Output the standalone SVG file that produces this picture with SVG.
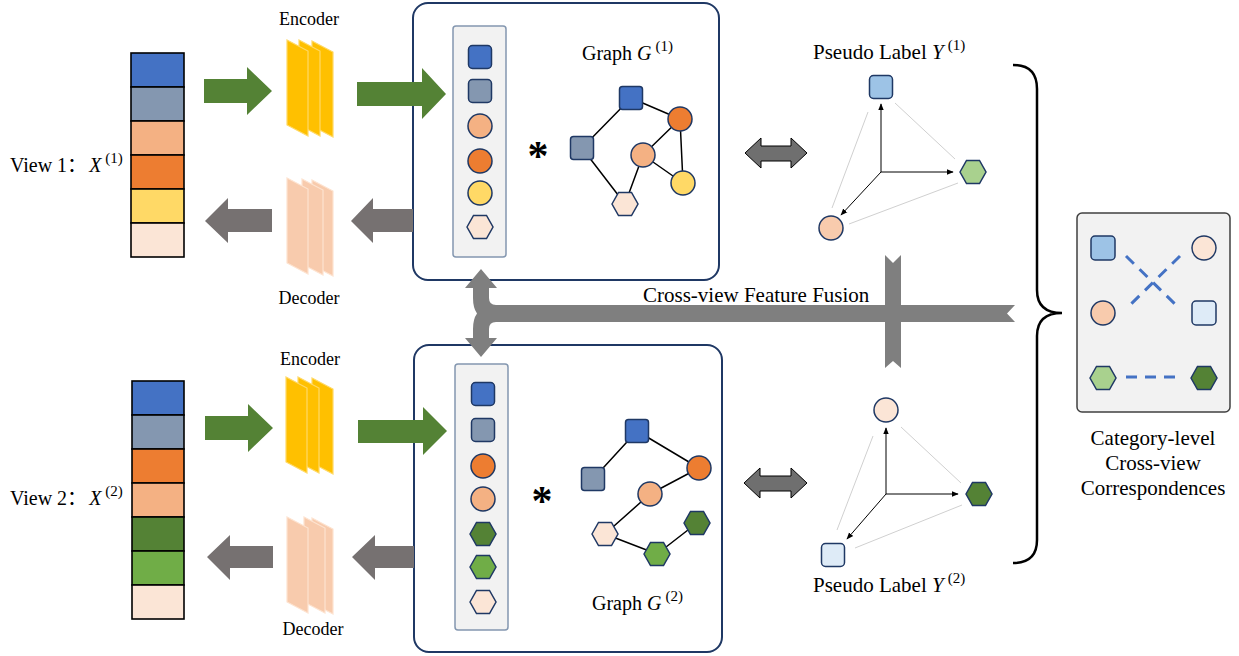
<svg xmlns="http://www.w3.org/2000/svg" xmlns:xlink="http://www.w3.org/1999/xlink" width="1239" height="656" viewBox="0 0 1239 656">
  <style>
    text { font-family: "Liberation Serif", "Times New Roman", "Noto Sans CJK SC", serif; fill: #000; }
    .lbl { font-size: 20px; }
    .small { font-size: 18px; }
    .big { font-size: 21px; }
    .sup { font-size: 15px; }
    .it { font-style: italic; }
    .cell { stroke: #000; stroke-width: 1.6; }
    .box { fill: #fff; stroke: #1f3864; stroke-width: 2; }
    .panel { fill: #f2f2f2; stroke: #8497b0; stroke-width: 1.5; }
    .nd { stroke: #1f3864; stroke-width: 1.5; }
    .edge { stroke: #000; stroke-width: 1.5; fill: none; }
    .axis { stroke: #000; stroke-width: 1; fill: none; marker-end: url(#tip); }
    .faint { stroke: #d0d0d0; stroke-width: 1; fill: none; }
    .fwd { fill: #548235; }
    .back { fill: #767171; }
    .dbl { fill: #6f6f6f; stroke: #000; stroke-width: 1; }
    .fuse { fill: #7f7f7f; }
    .enc { fill: #ffc000; stroke: #ffd966; stroke-width: 1.2; }
    .dec { fill: #f8cbad; stroke: #fde3d0; stroke-width: 1.2; }
    .corr { stroke: #4472c4; stroke-width: 3; stroke-dasharray: 11 8; fill: none; }
  </style>
  <defs>
    <path id="hex" d="M-13,0 L-6.5,-11.5 L6.5,-11.5 L13,0 L6.5,11.5 L-6.5,11.5 Z"/>
    <polygon id="sheet" points="0,0 21,11 21,96 0,85"/>
    <marker id="tip" viewBox="0 0 10 10" refX="9" refY="5" markerWidth="7" markerHeight="7" orient="auto" markerUnits="userSpaceOnUse">
      <path d="M0,1 L10,5 L0,9 Z" fill="#000"/>
    </marker>
  </defs>

  <!-- view 1 input vector -->
  <g id="view1">
    <text class="lbl" x="10" y="172">View 1：<tspan class="it" dx="2">X</tspan><tspan class="sup" dy="-9" dx="4">(1)</tspan></text>
    <rect class="cell" x="131" y="53" width="53" height="34" fill="#4472c4"/>
    <rect class="cell" x="131" y="87" width="53" height="34" fill="#8497b0"/>
    <rect class="cell" x="131" y="121" width="53" height="34" fill="#f4b183"/>
    <rect class="cell" x="131" y="155" width="53" height="34" fill="#ed7d31"/>
    <rect class="cell" x="131" y="189" width="53" height="34" fill="#ffd966"/>
    <rect class="cell" x="131" y="223" width="53" height="34" fill="#fbe5d6"/>
  </g>

  <!-- view 2 input vector -->
  <g id="view2">
    <text class="lbl" x="10" y="505">View 2：<tspan class="it" dx="2">X</tspan><tspan class="sup" dy="-9" dx="4">(2)</tspan></text>
    <rect class="cell" x="132" y="381" width="52" height="34" fill="#4472c4"/>
    <rect class="cell" x="132" y="415" width="52" height="34" fill="#8497b0"/>
    <rect class="cell" x="132" y="449" width="52" height="34" fill="#ed7d31"/>
    <rect class="cell" x="132" y="483" width="52" height="34" fill="#f4b183"/>
    <rect class="cell" x="132" y="517" width="52" height="34" fill="#548235"/>
    <rect class="cell" x="132" y="551" width="52" height="34" fill="#70ad47"/>
    <rect class="cell" x="132" y="585" width="52" height="34" fill="#fbe5d6"/>
  </g>

  <!-- encoders / decoders -->
  <g id="encoder1">
    <text class="small" x="309" y="25" text-anchor="middle">Encoder</text>
    <use href="#sheet" class="enc" x="312" y="41"/>
    <use href="#sheet" class="enc" x="299" y="40"/>
    <use href="#sheet" class="enc" x="287" y="40"/>
  </g>
  <g id="decoder1">
    <use href="#sheet" class="dec" x="312" y="180"/>
    <use href="#sheet" class="dec" x="302" y="179"/>
    <use href="#sheet" class="dec" x="287" y="178"/>
    <text class="small" x="309" y="304" text-anchor="middle">Decoder</text>
  </g>
  <g id="encoder2">
    <text class="small" x="310" y="365" text-anchor="middle">Encoder</text>
    <use href="#sheet" class="enc" x="312" y="378"/>
    <use href="#sheet" class="enc" x="298" y="377"/>
    <use href="#sheet" class="enc" x="286" y="377"/>
  </g>
  <g id="decoder2">
    <use href="#sheet" class="dec" x="312" y="518"/>
    <use href="#sheet" class="dec" x="304" y="517"/>
    <use href="#sheet" class="dec" x="287" y="517"/>
    <text class="small" x="313" y="635" text-anchor="middle">Decoder</text>
  </g>

  <!-- graph module, view 1 -->
  <g id="graph1">
    <rect class="box" x="413" y="3" width="306" height="277" rx="15"/>
    <rect class="panel" x="453" y="26" width="53" height="231" rx="3"/>
    <rect class="nd" x="468.5" y="45.5" width="23" height="23" rx="4" fill="#4472c4"/>
    <rect class="nd" x="468.5" y="79.5" width="23" height="23" rx="4" fill="#8497b0"/>
    <circle class="nd" cx="480" cy="126" r="12" fill="#f4b183"/>
    <circle class="nd" cx="480" cy="161" r="12" fill="#ed7d31"/>
    <circle class="nd" cx="480" cy="193" r="12" fill="#ffd966"/>
    <use href="#hex" class="nd" x="480" y="227" fill="#fbe5d6"/>
    <text x="538" y="170" font-size="42" font-weight="bold" text-anchor="middle">*</text>
    <text class="lbl" x="582" y="60">Graph <tspan class="it">G</tspan><tspan class="sup" dy="-9" dx="4">(1)</tspan></text>
    <path class="edge" d="M631,98 L680,119 M631,98 L582,148 M582,148 L625,204 M625,204 L643,155 M643,155 L680,119 M643,155 L683,183 M680,119 L683,183"/>
    <rect class="nd" x="619.5" y="86.5" width="23" height="23" rx="3" fill="#4472c4"/>
    <rect class="nd" x="570.5" y="136.5" width="23" height="23" rx="3" fill="#8497b0"/>
    <circle class="nd" cx="680" cy="119" r="12" fill="#ed7d31"/>
    <circle class="nd" cx="643" cy="155" r="12" fill="#f4b183"/>
    <circle class="nd" cx="683" cy="183" r="12" fill="#ffd966"/>
    <use href="#hex" class="nd" x="625" y="204" fill="#fbe5d6"/>
  </g>

  <!-- graph module, view 2 -->
  <g id="graph2">
    <rect class="box" x="414" y="345" width="308" height="307" rx="15"/>
    <rect class="panel" x="455" y="364" width="53" height="266" rx="3"/>
    <rect class="nd" x="471.5" y="382.5" width="23" height="23" rx="4" fill="#4472c4"/>
    <rect class="nd" x="471.5" y="418.5" width="23" height="23" rx="4" fill="#8497b0"/>
    <circle class="nd" cx="483" cy="466" r="12" fill="#ed7d31"/>
    <circle class="nd" cx="483" cy="499" r="12" fill="#f4b183"/>
    <use href="#hex" class="nd" x="483" y="534" fill="#548235"/>
    <use href="#hex" class="nd" x="483" y="567" fill="#70ad47"/>
    <use href="#hex" class="nd" x="483" y="602" fill="#fbe5d6"/>
    <text x="542" y="515" font-size="42" font-weight="bold" text-anchor="middle">*</text>
    <path class="edge" d="M637,431 L593,479 M637,431 L699,468 M699,468 L650,494 M650,494 L605,534 M605,534 L657,554 M657,554 L697,523"/>
    <rect class="nd" x="625.5" y="419.5" width="23" height="23" rx="3" fill="#4472c4"/>
    <rect class="nd" x="581.5" y="467.5" width="23" height="23" rx="3" fill="#8497b0"/>
    <circle class="nd" cx="699" cy="468" r="12" fill="#ed7d31"/>
    <circle class="nd" cx="650" cy="494" r="12" fill="#f4b183"/>
    <use href="#hex" class="nd" x="605" y="534" fill="#fbe5d6"/>
    <use href="#hex" class="nd" x="657" y="554" fill="#70ad47"/>
    <use href="#hex" class="nd" x="697" y="523" fill="#548235"/>
    <text class="lbl" x="592" y="610">Graph <tspan class="it">G</tspan><tspan class="sup" dy="-9" dx="4">(2)</tspan></text>
  </g>

  <!-- pseudo labels, view 1 -->
  <g id="pseudo1">
    <text class="big" x="813" y="59">Pseudo Label <tspan class="it">Y</tspan><tspan class="sup" dy="-9" dx="4">(1)</tspan></text>
    <path class="faint" d="M868,112 L832,208 M895,103 L955,159 M958,183 L849,224"/>
    <path class="axis" d="M881,172 L881,104"/>
    <path class="axis" d="M881,172 L953,172"/>
    <path class="axis" d="M881,172 L841,215"/>
    <rect class="nd" x="869.5" y="75.5" width="23" height="23" rx="4" fill="#9dc3e6"/>
    <use href="#hex" class="nd" x="973" y="172" fill="#a9d18e"/>
    <circle class="nd" cx="831" cy="228" r="12" fill="#f8cbad"/>
  </g>

  <!-- pseudo labels, view 2 -->
  <g id="pseudo2">
    <path class="faint" d="M873,436 L837,530 M901,427 L961,483 M962,505 L855,548"/>
    <path class="axis" d="M886,494 L886,428"/>
    <path class="axis" d="M886,494 L958,494"/>
    <path class="axis" d="M886,494 L847,539"/>
    <circle class="nd" cx="886" cy="410" r="12" fill="#fbe5d6"/>
    <use href="#hex" class="nd" x="979" y="494" fill="#548235"/>
    <rect class="nd" x="821.5" y="543.5" width="23" height="23" rx="4" fill="#deebf7"/>
    <text class="big" x="813" y="592">Pseudo Label <tspan class="it">Y</tspan><tspan class="sup" dy="-9" dx="4">(2)</tspan></text>
  </g>

  <!-- category-level correspondences -->
  <g id="correspondence">
    <rect x="1077" y="213" width="153" height="199" rx="5" fill="#f2f2f2" stroke="#404040" stroke-width="1.5"/>
    <path class="corr" d="M1126,256 L1178,307 M1180,256 L1128,307 M1126,377 L1181,377"/>
    <rect class="nd" x="1091" y="236" width="24" height="24" rx="4" fill="#9dc3e6"/>
    <circle class="nd" cx="1204" cy="248" r="12" fill="#fbe5d6"/>
    <circle class="nd" cx="1103" cy="313" r="12" fill="#f8cbad"/>
    <rect class="nd" x="1192" y="301" width="24" height="24" rx="4" fill="#deebf7"/>
    <use href="#hex" class="nd" x="1103" y="378" fill="#a9d18e"/>
    <use href="#hex" class="nd" x="1204" y="378" fill="#548235"/>
    <text class="big" text-anchor="middle" x="1153" y="445">Category-level</text>
    <text class="big" text-anchor="middle" x="1153" y="470">Cross-view</text>
    <text class="big" text-anchor="middle" x="1153" y="495">Correspondences</text>
  </g>

  <!-- connectors -->
  <g id="connectors">
    <!-- view 1 flow -->
    <path class="fwd" d="M204,79 L247,79 L247,67 L272,91 L247,115 L247,103 L204,103 Z"/>
    <path class="fwd" d="M357,82 L422,82 L422,68 L446,94 L422,119 L422,106 L357,106 Z"/>
    <path class="back" d="M272,209 L228,209 L228,198 L205,221 L228,243 L228,232 L272,232 Z"/>
    <path class="back" d="M413,209 L373,209 L373,198 L351,221 L373,243 L373,232 L413,232 Z"/>
    <!-- view 2 flow -->
    <path class="fwd" d="M205,416 L248,416 L248,404 L273,428 L248,452 L248,440 L205,440 Z"/>
    <path class="fwd" d="M358,420 L423,420 L423,407 L447,431 L423,455 L423,443 L358,443 Z"/>
    <path class="back" d="M273,546 L230,546 L230,535 L207,557 L230,580 L230,568 L273,568 Z"/>
    <path class="back" d="M414,546 L375,546 L375,535 L352,557 L375,580 L375,568 L414,568 Z"/>
    <!-- graph to pseudo label exchanges -->
    <path class="dbl" d="M745,153 L761,138 L761,146 L791,146 L791,138 L807,153 L791,168 L791,161 L761,161 L761,168 Z"/>
    <path class="dbl" d="M744,483 L760,468 L760,476 L791,476 L791,468 L807,483 L791,498 L791,491 L760,491 L760,498 Z"/>
    <!-- cross-view feature fusion -->
    <path class="fuse" d="M481,269 L497,288 L489,288 L489,298 Q489,305 496,305 L1015,305 L1007,313.5 L1015,322 L496,322 Q489,322 489,329 L489,338 L497,338 L481,357 L465,338 L473,338 L473,329 Q473,319 477,313.5 Q473,308 473,298 L473,288 L465,288 Z"/>
    <path class="fuse" d="M885,255 L893,263 L901,255 L901,368 L893,361 L885,368 Z"/>
    <text class="big" x="643" y="302">Cross-view Feature Fusion</text>
    <!-- brace over both pseudo labels -->
    <path d="M1013,65 Q1037,65 1037,89 L1037,290 Q1037,313 1062,313 Q1037,313 1037,336 L1037,540 Q1037,563 1013,563" fill="none" stroke="#000" stroke-width="2.5"/>
  </g>
</svg>
